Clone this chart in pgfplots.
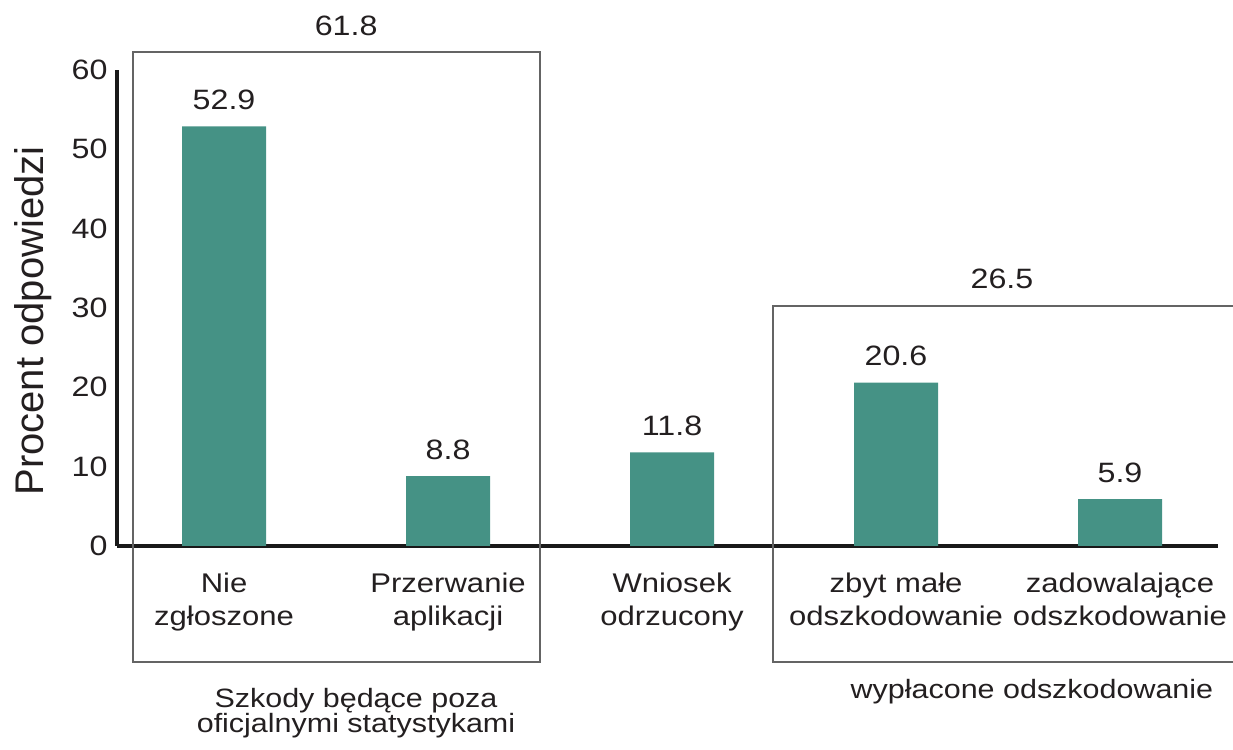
\documentclass[border=0pt]{standalone}
\usepackage{fontspec}
\setmainfont{Liberation Sans}[FakeStretch=1.15]
\newfontfamily\ylabfont{Liberation Sans}
\usepackage{pgfplots}
\pgfplotsset{compat=1.18}
\definecolor{barteal}{RGB}{69,146,133}
\definecolor{boxgray}{RGB}{100,100,100}
\definecolor{txt}{RGB}{35,31,32}
\begin{document}
\begin{tikzpicture}
\begin{axis}[
  at={(117pt,203pt)}, anchor=south west,
  scale only axis, width=1101pt, height=476pt,
  xmin=-0.478, xmax=4.4375, ymin=0, ymax=60,
  axis lines=left,
  axis line style={-, line width=3.3pt, black!90},
  major tick length=0pt,
  ytick={0,10,20,30,40,50,60},
  xtick={0,1,2,3,4},
  xticklabels={{Nie\\zgłoszone},{Przerwanie\\aplikacji},{Wniosek\\odrzucony},{zbyt małe\\odszkodowanie},{zadowalające\\odszkodowanie}},
  xticklabel style={align=center, anchor=base, yshift=-79pt, font=\fontsize{27}{33}\selectfont, text=txt},
  yticklabel style={font=\fontsize{28}{30}\selectfont, text=txt, xshift=-6pt},
  /pgf/number format/assume math mode=true,
  ylabel={\ylabfont Procent odpowiedzi},
  ylabel style={at={(axis description cs:-0.0672,0.4727)}, anchor=base, font=\fontsize{40}{44}\selectfont, text=txt},
  clip=false,
  ybar, bar width=84pt, bar shift=0pt,
  nodes near coords,
  point meta=explicit symbolic,
  every node near coord/.append style={anchor=base, yshift=17pt, font=\fontsize{28}{32}\selectfont, text=txt},
]
\draw[boxgray, line width=1.5pt] (axis cs:-0.406,-14.62) rectangle (axis cs:1.411,62.27);
\draw[boxgray, line width=1.5pt] (axis cs:4.6,30.25) -- (axis cs:2.451,30.25) -- (axis cs:2.451,-14.62) -- (axis cs:4.6,-14.62);
\addplot[fill=barteal, draw=none] coordinates {(0,52.9) [52.9] (1,8.8) [8.8] (2,11.8) [11.8] (3,20.6) [20.6] (4,5.9) [5.9]};
\node[anchor=base, font=\fontsize{28}{32}\selectfont, text=txt] at (axis cs:0.545,64.4) {61.8};
\node[anchor=base, font=\fontsize{28}{32}\selectfont, text=txt] at (axis cs:3.473,32.4) {26.5};
\node[anchor=base, align=center, font=\fontsize{26.5}{25}\selectfont, text=txt] at (axis cs:0.589,-23.57) {Szkody będące poza\\oficjalnymi statystykami};
\node[anchor=base, font=\fontsize{26.5}{28}\selectfont, text=txt] at (axis cs:3.607,-19.16) {wypłacone odszkodowanie};
\end{axis}
\pgfresetboundingbox
\path (0,0) rectangle (1233pt,749pt);
\end{tikzpicture}
\end{document}
